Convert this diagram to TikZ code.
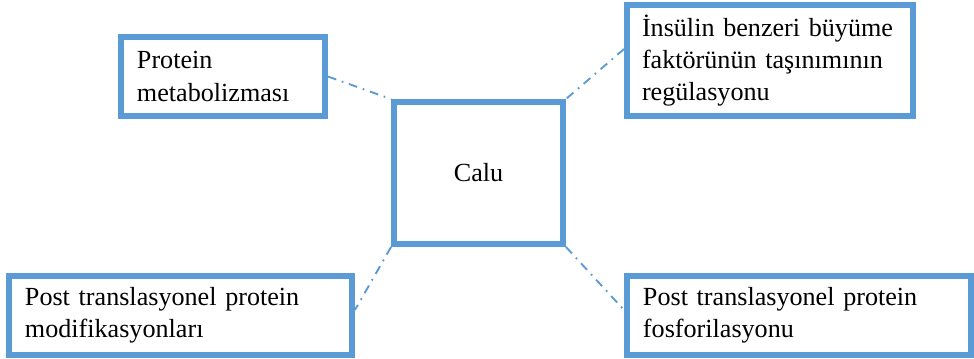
\documentclass[tikz,border=0pt]{standalone}
\usepackage{fontspec}
\setmainfont{Liberation Serif}
\definecolor{azzurro}{HTML}{5B9BD5}
\tikzset{
    riquadro/.style={draw=azzurro, line width=5pt, rectangle, align=left,
        font=\fontsize{22.3}{27.5}\selectfont},
    linea/.style={azzurro, line width=1.6pt,
        dash pattern=on 7.5pt off 5pt on 1.5pt off 5pt}
}
\begin{document}
\begin{tikzpicture}[x=0.03cm,y=-0.03cm]
        % Area del disegno
        \useasboundingbox (0,0) rectangle (974,358);

        % Disegna i riquadri
        \node[riquadro, minimum width=5.07cm, minimum height=4.26cm] (calu) at (478.5,173) {Calu};
        \node[riquadro, minimum width=6.12cm, minimum height=2.37cm, text width=5.16cm] (metab) at (223,76.5) {Protein\\metabolizması};
        \node[riquadro, minimum width=8.58cm, minimum height=3.33cm, text width=7.68cm] (insulin) at (770,60.5) {İnsülin benzeri büyüme\\faktörünün taşınımının\\regülasyonu};
        \node[riquadro, minimum width=10.29cm, minimum height=2.37cm, text width=9.33cm] (modif) at (180.5,315.5) {Post translasyonel protein\\modifikasyonları};
        \node[riquadro, minimum width=10.32cm, minimum height=2.37cm, text width=9.36cm] (fosfo) at (799,315.5) {Post translasyonel protein\\fosforilasyonu};

        % Disegna i collegamenti
        \draw[linea] (metab.east) -- (calu.north west);
        \draw[linea] ([yshift=0.345cm]insulin.west) -- (calu.north east);
        \draw[linea] (calu.south west) -- ([yshift=0.165cm]modif.east);
        \draw[linea] (calu.south east) -- ([yshift=0.165cm]fosfo.west);
    \end{tikzpicture}
\end{document}
